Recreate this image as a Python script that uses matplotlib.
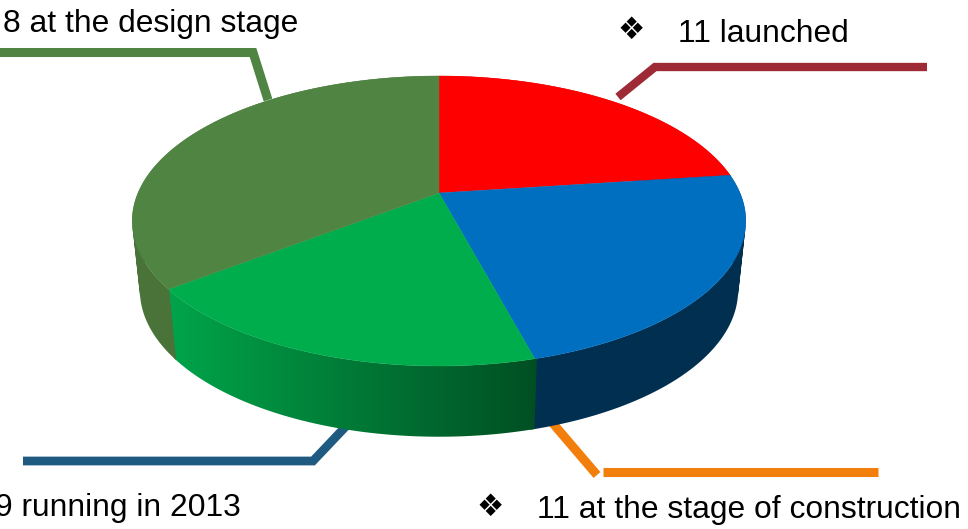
import numpy as np
import matplotlib
matplotlib.use("Agg")
import matplotlib.pyplot as plt
from matplotlib.colors import LinearSegmentedColormap
from matplotlib.patches import PathPatch, Polygon
from matplotlib.path import Path

plt.rcParams["font.family"] = ["Liberation Sans", "DejaVu Sans"]

categories = ["launched", "construction", "running", "design"]
values = [11, 11, 9, 17]
top_colors = ["#FF0000", "#006FC0", "#00AD4D", "#4F8443"]
side_left = ["#C00000", "#002F50", "#00A54A", "#4A7339"]
side_right = ["#C00000", "#002F50", "#004F23", "#4A7339"]

# pie placement in pixels, with the tilt of the original
cx, cy = 439, 193
rx, ry, k = 301, 139.6, 0.193
depth = 69
shrink = 0.975


def top_edge(theta):
    X, Y = np.sin(theta), np.cos(theta)
    return cx + rx * X / (1 + k * Y), cy - ry * Y / (1 + k * Y)


def bottom_edge(theta):
    x, y = top_edge(theta)
    return cx + (x - cx) * shrink, cy + depth + (y - cy) * 1.01


def wall_path(th):
    # quads between the two rims, all wound the same way so they fill as a union
    xt, yt = top_edge(th)
    xb, yb = bottom_edge(th)
    verts, codes = [], []
    for j in range(len(th) - 1):
        q = np.array([[xt[j], yt[j]], [xt[j + 1], yt[j + 1]], [xb[j + 1], yb[j + 1]], [xb[j], yb[j]]])
        area = np.sum(q[:, 0] * np.roll(q[:, 1], -1) - np.roll(q[:, 0], -1) * q[:, 1])
        if area < 0:
            q = q[::-1]
        verts += list(q) + [q[0]]
        codes += [Path.MOVETO, Path.LINETO, Path.LINETO, Path.LINETO, Path.CLOSEPOLY]
    return Path(np.array(verts), codes), np.r_[xt, xb], np.r_[yt, yb]


fig = plt.figure(figsize=(9.68, 5.29), dpi=100)
ax = fig.add_axes([0, 0, 1, 1])
ax.axis("off")

edges = np.cumsum([0] + values) / sum(values) * 2 * np.pi

# side walls first, a left-to-right gradient clipped to each wall
for i in range(len(values)):
    th = np.linspace(edges[i] - 0.006, edges[i + 1] + 0.006, 200)
    path, xs, ys = wall_path(th)
    wall = PathPatch(path, fc="none", ec="none", transform=ax.transData)
    ax.add_patch(wall)
    cmap = LinearSegmentedColormap.from_list("wall", [side_left[i], side_right[i]])
    im = ax.imshow(np.linspace(0, 1, 256)[None, :], cmap=cmap,
                   extent=[xs.min(), xs.max(), ys.max(), ys.min()],
                   aspect="auto", zorder=3, interpolation="bilinear")
    im.set_clip_path(wall)

# top face
for i in range(len(values)):
    th = np.linspace(edges[i], edges[i + 1], 200)
    x, y = top_edge(th)
    pts = np.c_[np.r_[cx, x], np.r_[cy, y]]
    ax.add_patch(Polygon(pts, fc=top_colors[i], ec=top_colors[i], lw=0.3, zorder=4))

# leader lines
ax.plot([-5, 253, 268], [52.5, 52.5, 100], color="#4F8443", lw=6.5, solid_joinstyle="miter", solid_capstyle="butt", zorder=2)
ax.plot([618, 655, 927], [97, 67, 67], color="#9E2A36", lw=6, solid_joinstyle="miter", solid_capstyle="butt", zorder=2)
ax.plot([23, 313, 350], [461, 461, 422], color="#1F5A80", lw=6.3, solid_joinstyle="miter", solid_capstyle="butt", zorder=2)
ax.plot([550, 597], [420, 475], color="#F27F0C", lw=6.5, solid_capstyle="butt", zorder=2)
ax.plot([603, 878], [471.5, 471.5], color="#F27F0C", lw=6.5, solid_capstyle="butt", zorder=2)

# labels
txt = dict(fontsize=22.9, color="black", va="baseline", ha="left", zorder=5)
ax.text(3, 32, "8 at the design stage", **txt)
ax.text(678, 42, "11 launched", **txt)
ax.text(-5, 516, "9 running in 2013", **txt)
ax.text(537, 518, "11 at the stage of construction", **txt)

for bx, by in [(631, 30), (490, 507)]:
    ax.text(bx, by, "\u2756", fontsize=22, color="black", ha="center", va="center", family="DejaVu Sans", zorder=5)

ax.set_xlim(0, 968)
ax.set_ylim(529, 0)

fig.savefig("out.png", dpi=100)
